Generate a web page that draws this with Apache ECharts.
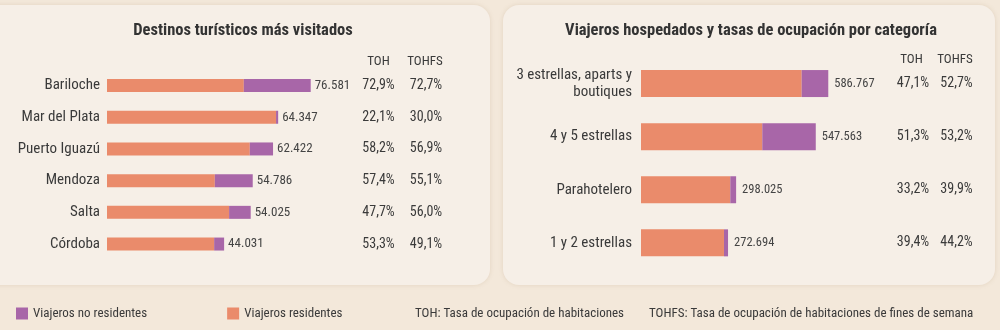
<!DOCTYPE html>
<html>
<head>
<meta charset="utf-8">
<script src="https://cdn.jsdelivr.net/npm/echarts@6/dist/echarts.min.js"></script>
<style>
html,body{margin:0;padding:0;background:#F2E7DA;}
#c{width:1000px;height:330px;}
</style>
</head>
<body>
<div id="c"></div>
<script>
// ---- Data ----
const destinos = ['Bariloche', 'Mar del Plata', 'Puerto Iguazú', 'Mendoza', 'Salta', 'Córdoba'];
const destResidentes = [51430, 63550, 53680, 40540, 45900, 40280];
const destNoResidentes = [25151, 797, 8742, 14246, 8125, 3751];
const destTOH = [72.9, 22.1, 58.2, 57.4, 47.7, 53.3];
const destTOHFS = [72.7, 30.0, 56.9, 55.1, 56.0, 49.1];

const categorias = ['3 estrellas, aparts y\nboutiques', '4 y 5 estrellas', 'Parahotelero', '1 y 2 estrellas'];
const catResidentes = [503400, 380000, 279800, 260000];
const catNoResidentes = [83367, 167563, 18225, 12694];
const catTOH = [47.1, 51.3, 33.2, 39.4];
const catTOHFS = [52.7, 53.2, 39.9, 44.2];

const titleLeft = 'Destinos turísticos más visitados';
const titleRight = 'Viajeros hospedados y tasas de ocupación por categoría';
const colHeaders = ['TOH', 'TOHFS'];
const legendNames = ['Viajeros no residentes', 'Viajeros residentes'];
const notes = ['TOH: Tasa de ocupación de habitaciones', 'TOHFS: Tasa de ocupación de habitaciones de fines de semana'];

// ---- Helpers ----
const FONT = "'Liberation Sans Narrow', 'Roboto Condensed', 'DejaVu Sans Condensed', 'Arial Narrow', sans-serif";
const ORANGE = '#EA8B6B';
const PURPLE = '#A866A8';
const TXT = '#3a3a3a';
const fmtInt = v => String(v).replace(/\B(?=(\d{3})+(?!\d))/g, '.');
const fmtPct = v => v.toFixed(1).replace('.', ',') + '%';

const chart = echarts.init(document.getElementById('c'), null, {renderer: 'canvas'});

function colAxis(gridIndex, data, offset) {
  return {
    type: 'category', gridIndex: gridIndex, inverse: true, position: 'right', offset: offset,
    data: data.map(fmtPct),
    axisLine: {show: false}, axisTick: {show: false}, splitLine: {show: false},
    axisLabel: {margin: 0, align: 'center', fontFamily: FONT, fontSize: 14, color: TXT}
  };
}

const option = {
  backgroundColor: '#F3E8DA',
  animation: false,
  textStyle: {fontFamily: FONT},
  graphic: [
    {type: 'rect', shape: {x: -20, y: 5, width: 510, height: 280, r: 16}, style: {fill: '#F6EFE7', shadowBlur: 4, shadowColor: 'rgba(180,150,120,0.25)'}, z: -10},
    {type: 'rect', shape: {x: 503, y: 5, width: 492, height: 280, r: 16}, style: {fill: '#F6EFE7', shadowBlur: 4, shadowColor: 'rgba(180,150,120,0.25)'}, z: -10},
    {type: 'text', x: 243, y: 31, style: {text: titleLeft, align: 'center', verticalAlign: 'middle', font: "bold 16.5px " + FONT, fill: '#333'}},
    {type: 'text', x: 751, y: 31, style: {text: titleRight, align: 'center', verticalAlign: 'middle', font: "bold 16.5px " + FONT, fill: '#333'}},
    {type: 'text', x: 378.5, y: 62, style: {text: colHeaders[0], align: 'center', verticalAlign: 'middle', font: "13px " + FONT, fill: TXT}},
    {type: 'text', x: 425, y: 62, style: {text: colHeaders[1], align: 'center', verticalAlign: 'middle', font: "13px " + FONT, fill: TXT}},
    {type: 'text', x: 911.5, y: 59.5, style: {text: colHeaders[0], align: 'center', verticalAlign: 'middle', font: "13px " + FONT, fill: TXT}},
    {type: 'text', x: 955, y: 59.5, style: {text: colHeaders[1], align: 'center', verticalAlign: 'middle', font: "13px " + FONT, fill: TXT}},
    {type: 'text', x: 415, y: 314, style: {text: notes[0], align: 'left', verticalAlign: 'middle', font: "13px " + FONT, fill: TXT}},
    {type: 'text', x: 649, y: 314, style: {text: notes[1], align: 'left', verticalAlign: 'middle', font: "13px " + FONT, fill: TXT}}
  ],
  legend: {
    data: legendNames, left: 11, top: 302, itemWidth: 12, itemHeight: 12, itemGap: 80,
    icon: 'rect', textStyle: {fontFamily: FONT, fontSize: 13, color: TXT}, selectedMode: false
  },
  grid: [
    {left: 107, width: 266, top: 69.7, height: 190.2, outerBoundsMode: 'none', containLabel: false},
    {left: 641, width: 191.5, top: 57, height: 212.4, outerBoundsMode: 'none', containLabel: false}
  ],
  xAxis: [
    {type: 'value', gridIndex: 0, min: 0, max: 100000, show: false},
    {type: 'value', gridIndex: 1, min: 0, max: 600000, show: false}
  ],
  yAxis: [
    {type: 'category', gridIndex: 0, inverse: true, data: destinos,
      axisLine: {show: false}, axisTick: {show: false},
      axisLabel: {margin: 7, fontFamily: FONT, fontSize: 15, color: TXT}},
    {type: 'category', gridIndex: 1, inverse: true, data: categorias,
      axisLine: {show: false}, axisTick: {show: false},
      axisLabel: {margin: 9, fontFamily: FONT, fontSize: 15, color: TXT, lineHeight: 17, align: 'right'}},
    colAxis(0, destTOH, 5.5),
    colAxis(0, destTOHFS, 53),
    colAxis(1, catTOH, 80.5),
    colAxis(1, catTOHFS, 124)
  ],
  series: [
    {name: legendNames[1], type: 'bar', stack: 'a', xAxisIndex: 0, yAxisIndex: 0, data: destResidentes,
      barWidth: 13, itemStyle: {color: ORANGE}},
    {name: legendNames[0], type: 'bar', stack: 'a', xAxisIndex: 0, yAxisIndex: 0, data: destNoResidentes,
      barWidth: 13, itemStyle: {color: PURPLE},
      label: {show: true, position: 'right', distance: 4, fontFamily: FONT, fontSize: 13, color: '#444',
        formatter: p => fmtInt(destResidentes[p.dataIndex] + destNoResidentes[p.dataIndex])}},
    {name: legendNames[1], type: 'bar', stack: 'b', xAxisIndex: 1, yAxisIndex: 1, data: catResidentes,
      barWidth: 27, itemStyle: {color: ORANGE}},
    {name: legendNames[0], type: 'bar', stack: 'b', xAxisIndex: 1, yAxisIndex: 1, data: catNoResidentes,
      barWidth: 27, itemStyle: {color: PURPLE},
      label: {show: true, position: 'right', distance: 6, fontFamily: FONT, fontSize: 12.5, color: '#444',
        formatter: p => fmtInt(catResidentes[p.dataIndex] + catNoResidentes[p.dataIndex])}}
  ]
};
chart.setOption(option);
</script>
</body>
</html>
